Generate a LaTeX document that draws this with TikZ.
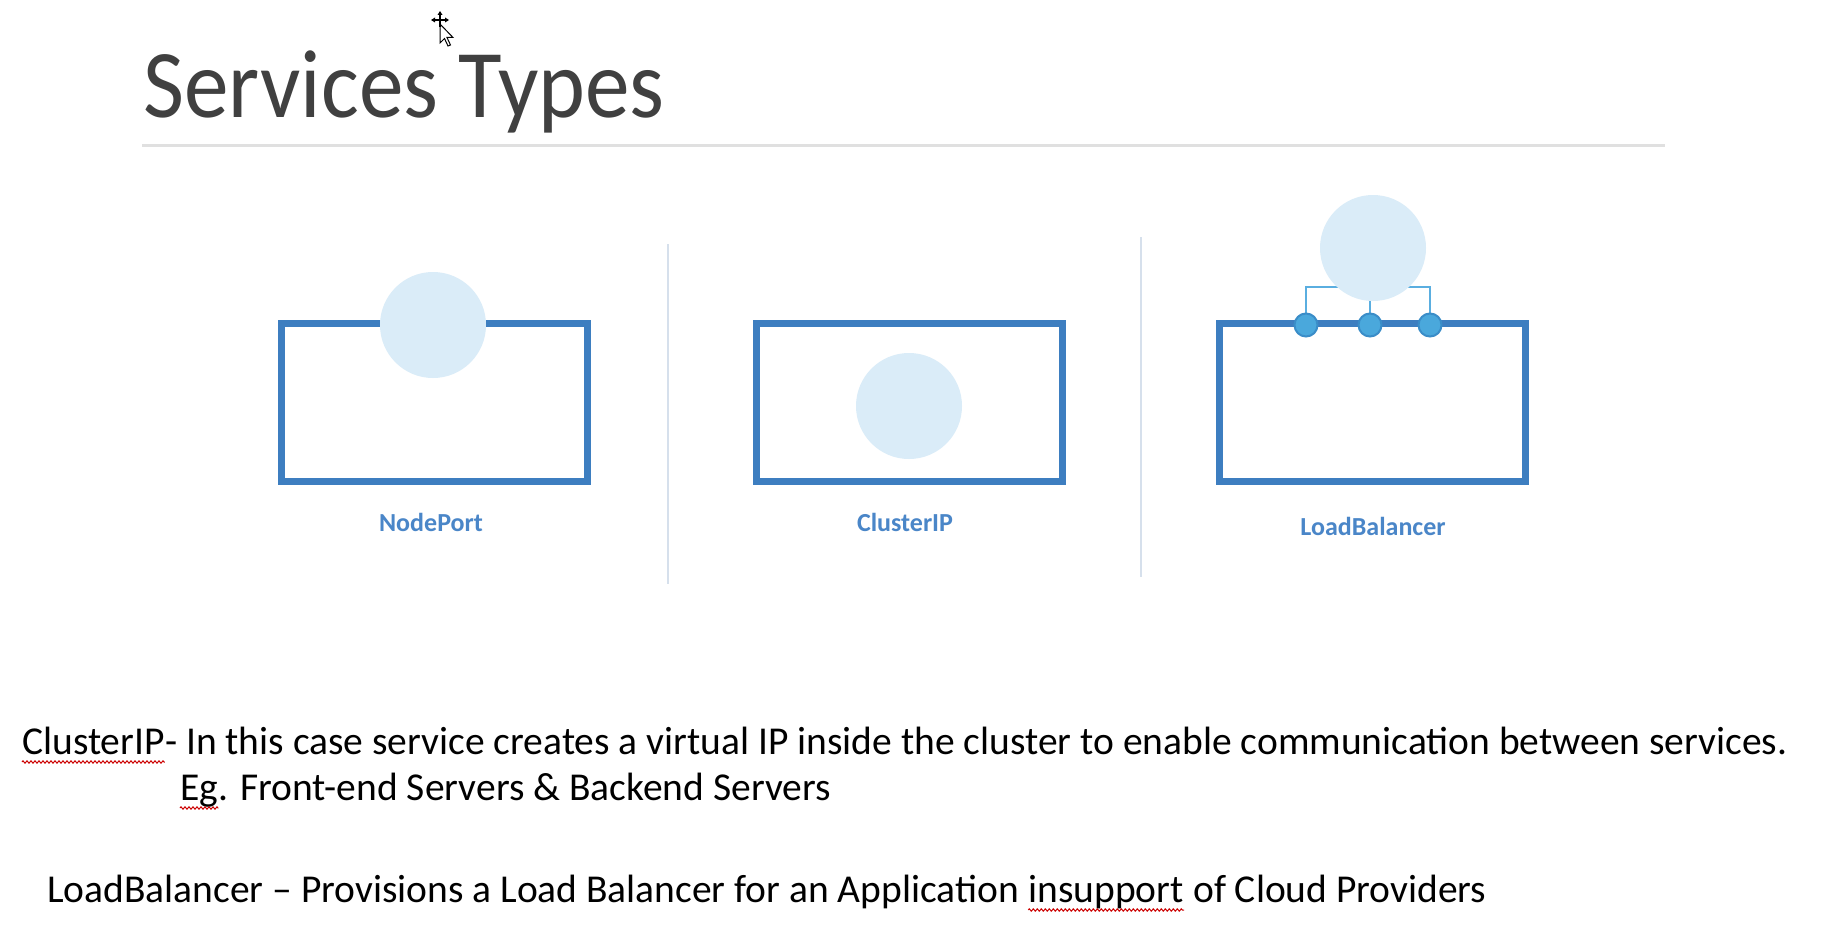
\documentclass[tikz,border=0pt]{standalone}
\usepackage{fontspec}
\setmainfont{Carlito}
\usetikzlibrary{decorations.pathmorphing}
\pgfdeclarelayer{background}
\pgfsetlayers{background,main}
\definecolor{boxblue}{RGB}{61,126,192}
\definecolor{bubble}{RGB}{218,236,248}
\definecolor{dotblue}{RGB}{74,168,220}
\definecolor{dotedge}{RGB}{58,141,200}
\definecolor{linkblue}{RGB}{90,174,224}
\definecolor{labelblue}{RGB}{74,134,200}
\definecolor{rulegray}{RGB}{224,224,224}
\definecolor{sepgray}{RGB}{214,224,236}
\definecolor{titlegray}{RGB}{64,64,64}
\begin{document}
\begin{tikzpicture}[x=1pt,y=-1pt,
  svcbox/.style={draw=boxblue,line width=7pt,rectangle,minimum width=306pt,minimum height=158pt,inner sep=0pt},
  ipbubble/.style={circle,fill=bubble,minimum size=106pt,inner sep=0pt},
  portdot/.style={circle,fill=dotblue,draw=dotedge,line width=2pt,minimum size=23pt,inner sep=0pt},
  link/.style={draw=linkblue,line width=2pt},
  svclabel/.style={anchor=base,text=labelblue,font=\fontsize{26}{30}\selectfont\bfseries},
  sepline/.style={draw=sepgray,line width=2.5pt},
  body/.style={anchor=base west,inner sep=0pt,font=\fontsize{39.5}{46}\selectfont},
  squiggle/.style={draw=red!80!black,line width=1pt,decorate,decoration={zigzag,segment length=4pt,amplitude=1.2pt}}]
\useasboundingbox (0,0) rectangle (1842,934);
\begin{pgfonlayer}{background}
\fill[white] (0,0) rectangle (1842,934);
\end{pgfonlayer}

% title
\node[anchor=base west,inner sep=0pt,text=titlegray,font=\fontsize{97}{110}\selectfont] (title) at (143,117) {\scalebox{0.92}[1]{Services Types}};
\coordinate (rl) at (142,145);
\coordinate (rr) at (1665,145);
\draw[rulegray,line width=3pt] (rl) -- (rr);

% cursor
\begin{scope}[shift={(440,24)}]
  \draw[black,line width=1pt,fill=white] (0,0) -- (0,19) -- (4.5,14.5) -- (8,22) -- (10.5,21) -- (7,13.5) -- (13,13.5) -- cycle;
  \draw[black,line width=1.2pt] (-7,-4) -- (7,-4) (0,-11) -- (0,3);
  \fill[black] (-9,-4) -- (-5,-6.5) -- (-5,-1.5) -- cycle;
  \fill[black] (9,-4) -- (5,-6.5) -- (5,-1.5) -- cycle;
  \fill[black] (0,-13) -- (-2.5,-9) -- (2.5,-9) -- cycle;
\end{scope}

% NodePort
\node[svcbox] (npbox) at (434,402) {};
\node[ipbubble] (npip) at (433,325) {};
\node[svclabel] (nplab) at (431,531) {NodePort};

% separators
\coordinate (s1t) at (668,244);
\coordinate (s1b) at (668,584);
\draw[sepline] (s1t) -- (s1b);
\coordinate (s2t) at (1141,237);
\coordinate (s2b) at (1141,577);
\draw[sepline] (s2t) -- (s2b);

% ClusterIP
\node[svcbox] (cibox) at (909,402) {};
\node[ipbubble] (ciip) at (909,406) {};
\node[svclabel] (cilab) at (905,531) {ClusterIP};

% LoadBalancer
\node[svcbox] (lbbox) at (1372,402) {};
\node[ipbubble] (lbip) at (1373,248) {};
\node[portdot] (d1) at (1306,325) {};
\node[portdot] (d2) at (1370,325) {};
\node[portdot] (d3) at (1430,325) {};
\coordinate (hub) at (1373,287);
\begin{pgfonlayer}{background}
  \draw[link] (d1.center) |- (hub);
  \draw[link] (d3.center) |- (hub);
  \draw[link] (d2.center) -- (d2.center |- lbip.center);
\end{pgfonlayer}
\node[svclabel] (lblab) at (1373,535) {LoadBalancer};

% description text
\node[body] (t1a) at (22,754) {ClusterIP};
\node[body] (t1b) at (t1a.base east) {- In this case service creates a virtual IP inside the cluster to enable communication between services.};
\node[body] (t2a) at (180,800) {Eg};
\node[body] (t2b) at (t2a.base east) {. Front-end Servers \& Backend Servers};
\node[body] (t3a) at (47,902) {LoadBalancer – Provisions a Load Balancer for an Application~~};
\node[body] (t3b) at (t3a.base east) {insupport};
\node[body] (t3c) at (t3b.base east) {~of Cloud Providers};

\draw[squiggle] ([yshift=-8pt]t1a.base west) -- ([yshift=-8pt]t1a.base east);
\draw[squiggle] ([yshift=-8pt]t2a.base west) -- ([yshift=-8pt]t2a.base east);
\draw[squiggle] ([yshift=-8pt]t3b.base west) -- ([yshift=-8pt]t3b.base east);
\end{tikzpicture}
\end{document}
